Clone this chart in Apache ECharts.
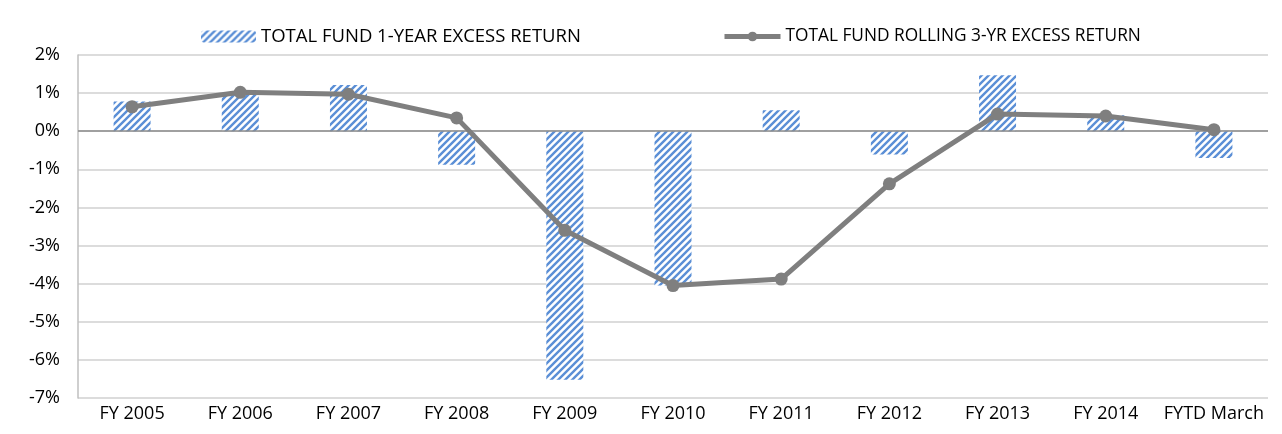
<!DOCTYPE html>
<html><head><meta charset="utf-8">
<script src="https://cdn.jsdelivr.net/npm/echarts@6/dist/echarts.min.js"></script>
<style>html,body{margin:0;padding:0;background:#fff}#c{width:1282px;height:434px}</style>
</head><body><div id="c"></div>
<script>
const categories = ['FY 2005','FY 2006','FY 2007','FY 2008','FY 2009','FY 2010','FY 2011','FY 2012','FY 2013','FY 2014','FYTD March'];
const oneYearExcess = [0.78, 0.98, 1.21, -0.88, -6.52, -4.05, 0.55, -0.61, 1.47, 0.42, -0.70];
const rolling3yrExcess = [0.64, 1.02, 0.97, 0.35, -2.60, -4.05, -3.88, -1.38, 0.45, 0.40, 0.04];
const yTicks = {min: -7, max: 2, interval: 1};

function makePattern(){
  const s = 7;
  const cv = document.createElement('canvas');
  cv.width = s; cv.height = s;
  const g = cv.getContext('2d');
  g.fillStyle = '#ffffff'; g.fillRect(0,0,s,s);
  g.strokeStyle = '#5b8fd6'; g.lineWidth = 2.4;
  g.beginPath();
  g.moveTo(-1, s+1); g.lineTo(s+1, -1);
  g.moveTo(-1, 1); g.lineTo(1, -1);
  g.moveTo(s-1, s+1); g.lineTo(s+1, s-1);
  g.stroke();
  return cv;
}
const pat = {image: makePattern(), repeat: 'repeat'};
const font = "'Open Sans', 'Noto Sans', sans-serif";
const fs = 18;

const chart = echarts.init(document.getElementById('c'), null, {renderer: 'canvas'});
chart.setOption({
  animation: false,
  grid: {left: 78, right: 14, top: 55, bottom: 36, containLabel: false},
  legend: [
    {data: ['TOTAL FUND 1-YEAR EXCESS RETURN'], left: 196, top: 22, itemWidth: 55, itemHeight: 12, itemGap: 4,
     textStyle: {fontFamily: font, fontSize: 18.5, color: '#000'}},
    {data: ['TOTAL FUND ROLLING 3-YR EXCESS RETURN'], left: 717, top: 23, itemWidth: 56, itemHeight: 12, itemGap: 4,
     lineStyle: {width: 5},
     textStyle: {fontFamily: font, fontSize: 17.3, color: '#000'}}
  ],
  xAxis: {
    type: 'category', data: categories,
    axisLine: {show: false, onZero: false},
    axisTick: {show: false},
    axisLabel: {interval: 0, fontFamily: font, fontSize: fs, color: '#000', margin: 7}
  },
  yAxis: {
    type: 'value', min: yTicks.min, max: yTicks.max, interval: yTicks.interval,
    axisLine: {show: true, lineStyle: {color: '#bfbfbf', width: 1.5}},
    axisTick: {show: false},
    splitLine: {lineStyle: {color: '#d0d0d0', width: 1.5}},
    axisLabel: {formatter: '{value}%', fontFamily: font, fontSize: fs, color: '#000', margin: 18}
  },
  series: [
    {name: 'TOTAL FUND 1-YEAR EXCESS RETURN', type: 'bar', data: oneYearExcess, barWidth: 37,
     itemStyle: {color: pat},
     markLine: {silent: true, symbol: 'none', label: {show: false},
       lineStyle: {color: '#8c8c8c', width: 1.5, type: 'solid'}, data: [{yAxis: 0}]}},
    {name: 'TOTAL FUND ROLLING 3-YR EXCESS RETURN', type: 'line', data: rolling3yrExcess,
     symbol: 'circle', symbolSize: 13, z: 5,
     lineStyle: {color: '#7f7f7f', width: 5},
     itemStyle: {color: '#7f7f7f'}}
  ]
});
</script></body></html>
